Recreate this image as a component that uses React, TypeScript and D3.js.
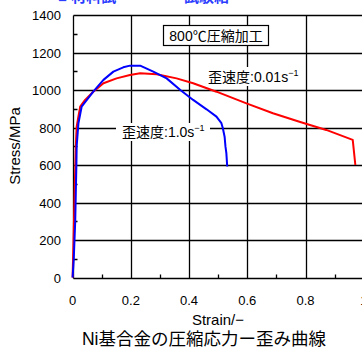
import React from "react";
import * as d3 from "d3";

const redStrain = [0, 0.004, 0.008, 0.011, 0.014, 0.02, 0.026, 0.043, 0.071, 0.106, 0.151, 0.197, 0.232, 0.289, 0.357, 0.414, 0.494, 0.597, 0.688, 0.779, 0.871, 0.962, 0.971];
const redStress = [0, 250, 520, 700, 805, 859, 911, 947, 991, 1036, 1062, 1080, 1089, 1084, 1062, 1036, 991, 929, 876, 831, 787, 734, 600];

const blueStrain = [0, 0.004, 0.009, 0.011, 0.013, 0.014, 0.02, 0.031, 0.049, 0.071, 0.106, 0.14, 0.174, 0.197, 0.232, 0.277, 0.323, 0.37, 0.414, 0.46, 0.494, 0.511, 0.516, 0.522, 0.525, 0.528, 0.531];
const blueStress = [0, 100, 300, 450, 600, 700, 823, 911, 947, 991, 1054, 1098, 1121, 1130, 1130, 1098, 1062, 1000, 947, 897, 858, 823, 796, 751, 698, 663, 592];

const xTicks = [0, 0.2, 0.4, 0.6, 0.8, 1];
const xTickLabels = ["0", "0.2", "0.4", "0.6", "0.8", "1"];
const xMinor = [0.1, 0.3, 0.5, 0.7, 0.9];
const yTicks = [0, 200, 400, 600, 800, 1000, 1200, 1400];
const yMinor = [100, 300, 500, 700, 900, 1100, 1300];

const FONT = "'Liberation Sans', Arial, 'Noto Sans CJK JP', sans-serif";

export default function App() {
  const x = d3.scaleLinear().domain([0, 1]).range([72.6, 363.8]);
  const y = d3.scaleLinear().domain([0, 1400]).range([277.5, 15]);
  const px = (v: number) => Math.round(x(v)) + 0.5;
  const py = (v: number) => Math.round(y(v)) + 0.5;
  const lineGen = d3
    .line<[number, number]>()
    .x((d) => x(d[0]))
    .y((d) => y(d[1]));
  const red: [number, number][] = redStrain.map((s, i) => [s, redStress[i]]);
  const blue: [number, number][] = blueStrain.map((s, i) => [s, blueStress[i]]);
  const x0 = px(0);
  const y0 = py(0);
  const yTop = py(1400);
  const xr = 362;

  let grid = "";
  xTicks.forEach((t) => {
    grid += `M${px(t)},${yTop}V${y0}`;
  });
  yTicks.forEach((t) => {
    grid += `M${x0},${py(t)}H${xr}`;
  });
  let minor = "";
  xMinor.forEach((t) => {
    minor += `M${px(t)},${y0}V${y0 - 4}`;
  });
  yMinor.forEach((t) => {
    minor += `M${x0},${py(t)}H${x0 + 4}`;
  });

  return (
    <svg
      width={362}
      height={350}
      style={{ position: "absolute", left: 0, top: 0, background: "#fff" }}
      fontFamily={FONT}
    >
      <rect x={0} y={0} width={362} height={350} fill="#fff" />
      {/* cut-off title at top */}
      <text x={58} y={2} fontSize={15} fill="#2a3cff" fontWeight="bold">
        ■ 材料試
      </text>
      <text x={184} y={2} fontSize={15} fill="#2a3cff" fontWeight="bold">
        試験結
      </text>
      {/* gridlines, ticks and axes */}
      <path d={grid} fill="none" stroke="#000000" strokeWidth={1.3} />
      <path d={minor} fill="none" stroke="#000000" strokeWidth={1.3} />

      {/* label backgrounds */}
      <rect x={116} y={123} width={94} height={18} fill="#fff" />
      <rect x={204} y={67} width={99} height={19} fill="#fff" />

      {/* curves */}
      <path d={lineGen(red) || ""} fill="none" stroke="#ff0000" strokeWidth={2} strokeLinejoin="round" />
      <path d={lineGen(blue) || ""} fill="none" stroke="#0000ff" strokeWidth={2} strokeLinejoin="round" />

      {/* annotations */}
      <rect x={163.5} y={25.5} width={105} height={20} fill="#fff" stroke="#000" strokeWidth={1.2} />
      <text x={216} y={40.5} fontSize={14} textAnchor="middle" fill="#000">
        800℃圧縮加工
      </text>
      <text x={208} y={82} fontSize={14} fill="#000">
        歪速度:0.01s
        <tspan fontSize={9} dy={-6}>−1</tspan>
      </text>
      <text x={122} y={137} fontSize={14} fill="#000">
        歪速度:1.0s
        <tspan fontSize={9} dy={-6}>−1</tspan>
      </text>

      {/* tick labels */}
      {yTicks.map((t) => (
        <text key={"yl" + t} x={61} y={y(t) + 5} fontSize={13} textAnchor="end" fill="#000">
          {t}
        </text>
      ))}
      {xTicks.map((t, i) => (
        <text key={"xl" + t} x={x(t)} y={305} fontSize={13} textAnchor="middle" fill="#000">
          {xTickLabels[i]}
        </text>
      ))}
      <text x={218} y={325} fontSize={15} textAnchor="middle" fill="#000">
        Strain/−
      </text>
      <text
        x={0}
        y={0}
        fontSize={15}
        textAnchor="middle"
        fill="#000"
        transform={`translate(20,146) rotate(-90)`}
      >
        Stress/MPa
      </text>
      <text x={204} y={345} fontSize={17.5} textAnchor="middle" fill="#000">
        Ni基合金の圧縮応力ー歪み曲線
      </text>
    </svg>
  );
}
